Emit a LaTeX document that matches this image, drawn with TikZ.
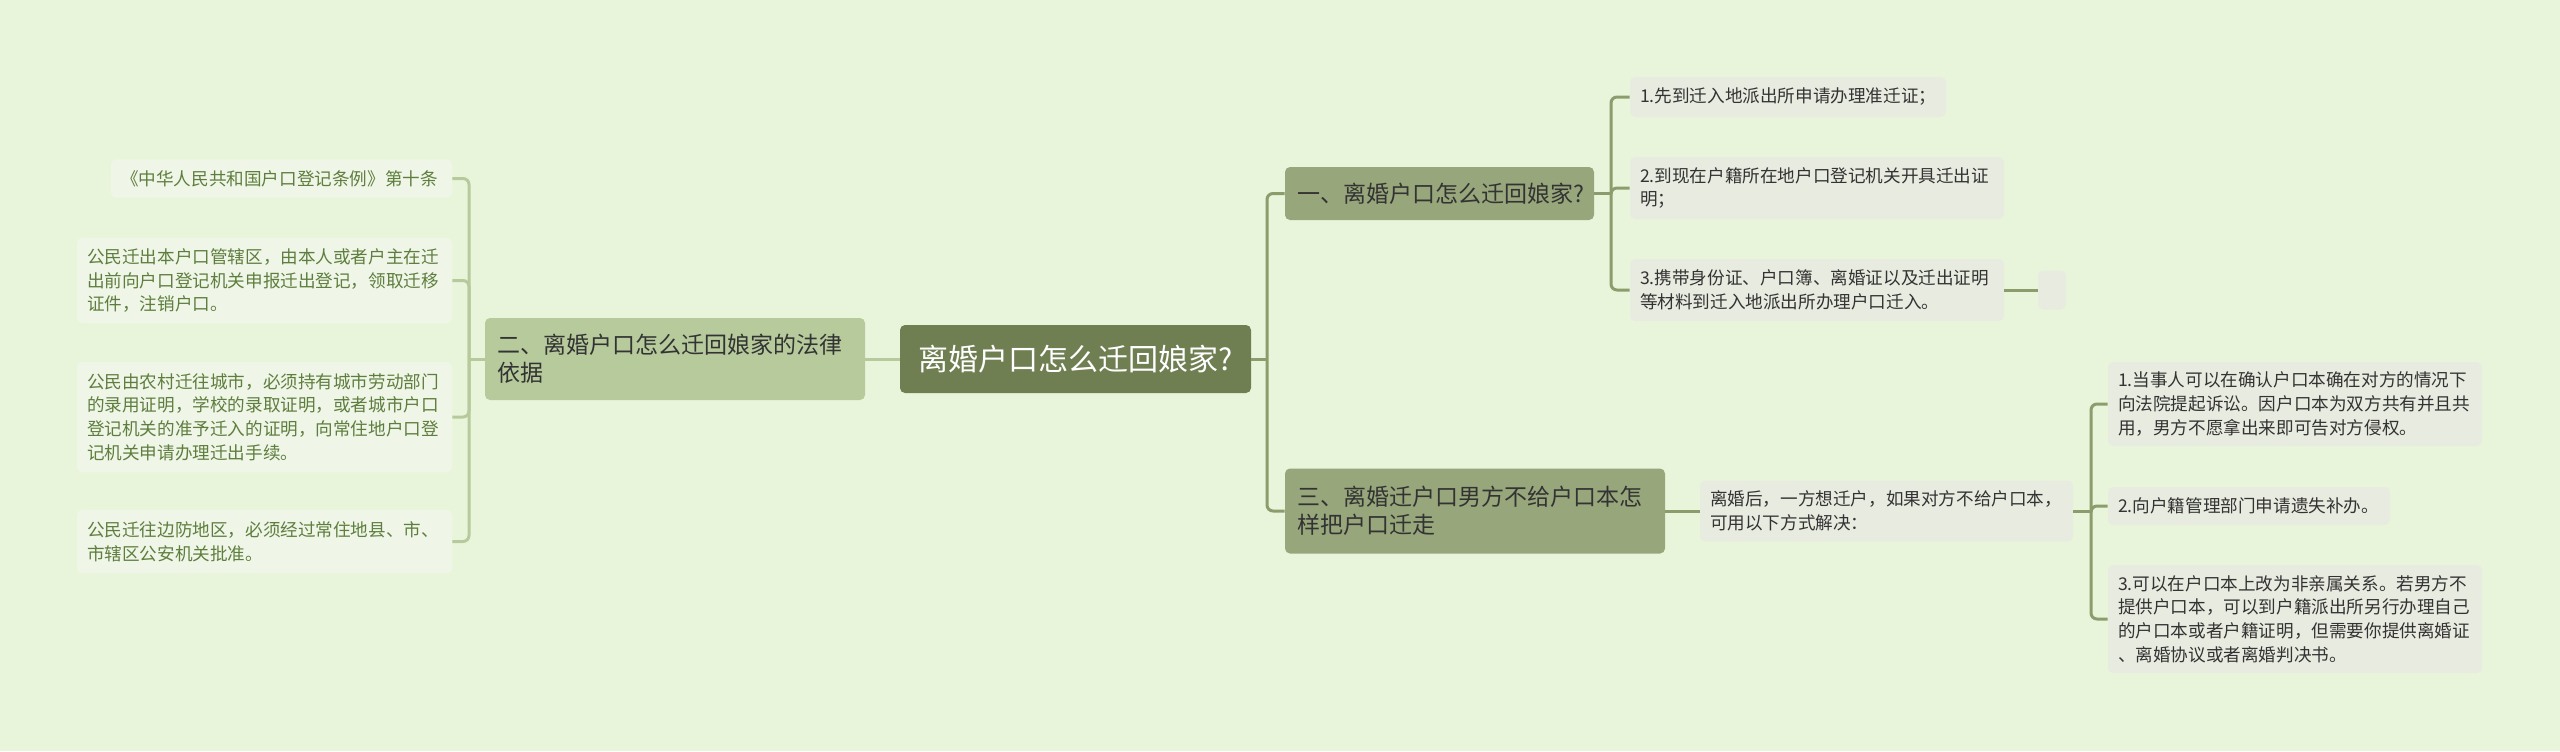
\documentclass[tikz,border=0pt]{standalone}
\usepackage{fontspec}
\newfontfamily\cjk{Noto Sans CJK SC}
\definecolor{BackClr}{HTML}{E9F5DB}
\definecolor{RootClr}{HTML}{6F7F52}
\definecolor{MainClr}{HTML}{97A67B}
\definecolor{SideClr}{HTML}{B6CA9B}
\definecolor{LeafClr}{HTML}{E8EBE0}
\definecolor{PaleClr}{HTML}{EFF5E7}
\definecolor{LinkClr}{HTML}{8C9C6C}
\definecolor{LeafTxtClr}{HTML}{5E7E3E}
\definecolor{TxtClr}{HTML}{333333}

\begin{document}
\begin{tikzpicture}[x=0.5pt,y=-0.5pt,
  box/.style={rounded corners=2.5pt,inner xsep=5pt,inner ysep=0pt,align=left},
  rootbox/.style={box,fill=RootClr,text=white,align=center,font=\cjk\fontsize{15}{18}\selectfont},
  mainbox/.style={box,fill=MainClr,text=TxtClr,inner xsep=6pt,font=\cjk\fontsize{11.5}{14}\selectfont},
  sidebox/.style={mainbox,fill=SideClr},
  leafbox/.style={box,fill=LeafClr,text=TxtClr,font=\cjk\fontsize{8.8}{11.8}\selectfont},
  paleleaf/.style={leafbox,fill=PaleClr,text=LeafTxtClr},
  rlink/.style={draw=LinkClr,line width=1.5pt,rounded corners=3pt},
  llink/.style={draw=SideClr,line width=1.5pt,rounded corners=3pt}]

\fill[BackClr] (0,0) rectangle (2560,751);
\useasboundingbox (0,0) rectangle (2560,751);

\node[rootbox,text width=165.5pt,minimum height=34pt] (root) at (1075.5,359) {离婚户口怎么迁回娘家?};

\node[sidebox,text width=178pt,minimum height=41pt] (law) at (675,359) {二、离婚户口怎么迁回娘家的法律\\依据};
\node[mainbox,text width=142.5pt,minimum height=26.5pt] (how) at (1439.5,193.5) {一、离婚户口怎么迁回娘家?};
\node[mainbox,text width=178pt,minimum height=42.5pt] (refuse) at (1475,511) {三、离婚迁户口男方不给户口本怎\\样把户口迁走};

\node[paleleaf,text width=160.5pt,minimum height=19pt] (rule) at (281.5,178.5) {《中华人民共和国户口登记条例》第十条};
\node[paleleaf,text width=177.5pt,minimum height=42.5pt] (out) at (264.5,280.5) {公民迁出本户口管辖区，由本人或者户主在迁\\出前向户口登记机关申报迁出登记，领取迁移\\证件，注销户口。};
\node[paleleaf,text width=177.5pt,minimum height=55pt] (city) at (264.5,417) {公民由农村迁往城市，必须持有城市劳动部门\\的录用证明，学校的录取证明，或者城市户口\\登记机关的准予迁入的证明，向常住地户口登\\记机关申请办理迁出手续。};
\node[paleleaf,text width=177.5pt,minimum height=31.5pt] (border) at (264.5,541.5) {公民迁往边防地区，必须经过常住地县、市、\\市辖区公安机关批准。};

\node[leafbox,text width=148pt,minimum height=20pt] (stepA) at (1788,97) {1.先到迁入地派出所申请办理准迁证；};
\node[leafbox,text width=177pt,minimum height=31pt] (stepB) at (1817,188) {2.到现在户籍所在地户口登记机关开具迁出证\\明；};
\node[leafbox,text width=177pt,minimum height=31pt] (stepC) at (1817,290) {3.携带身份证、户口簿、离婚证以及迁出证明\\等材料到迁入地派出所办理户口迁入。};
\node[leafbox,minimum width=14pt,minimum height=19.5pt,inner xsep=0pt] (blank) at (2052,290) {};

\node[leafbox,text width=176.5pt,minimum height=30.5pt] (intro) at (1886.5,511) {离婚后，一方想迁户，如果对方不给户口本，\\可用以下方式解决：};
\node[leafbox,text width=177pt,minimum height=42pt] (wayA) at (2295,404) {1.当事人可以在确认户口本确在对方的情况下\\向法院提起诉讼。因户口本为双方共有并且共\\用，男方不愿拿出来即可告对方侵权。};
\node[leafbox,text width=131pt,minimum height=19pt] (wayB) at (2249,506) {2.向户籍管理部门申请遗失补办。};
\node[leafbox,text width=177pt,minimum height=54pt] (wayC) at (2295,619) {3.可以在户口本上改为非亲属关系。若男方不\\提供户口本，可以到户籍派出所另行办理自己\\的户口本或者户籍证明，但需要你提供离婚证\\、离婚协议或者离婚判决书。};

\coordinate (lbus) at (469,359);
\coordinate (rbus) at (1267,359);
\coordinate (hbus) at (1611,193.5);
\coordinate (wbus) at (2091,511);

\draw[llink] (root.west) -- (law.east);
\draw[llink] (law.west) -- (lbus);
\draw[llink] (lbus) |- (rule.east);
\draw[llink] (lbus) |- (out.east);
\draw[llink] (lbus) |- (city.east);
\draw[llink] (lbus) |- (border.east);

\draw[rlink] (root.east) -- (rbus);
\draw[rlink] (rbus) |- (how.west);
\draw[rlink] (rbus) |- (refuse.west);

\draw[rlink] (how.east) -- (hbus);
\draw[rlink] (hbus) |- (stepA.west);
\draw[rlink] (hbus) |- (stepB.west);
\draw[rlink] (hbus) |- (stepC.west);
\draw[rlink] (stepC.east) -- (blank.west);

\draw[rlink] (refuse.east) -- (intro.west);
\draw[rlink] (intro.east) -- (wbus);
\draw[rlink] (wbus) |- (wayA.west);
\draw[rlink] (wbus) |- (wayB.west);
\draw[rlink] (wbus) |- (wayC.west);

\end{tikzpicture}
\end{document}
